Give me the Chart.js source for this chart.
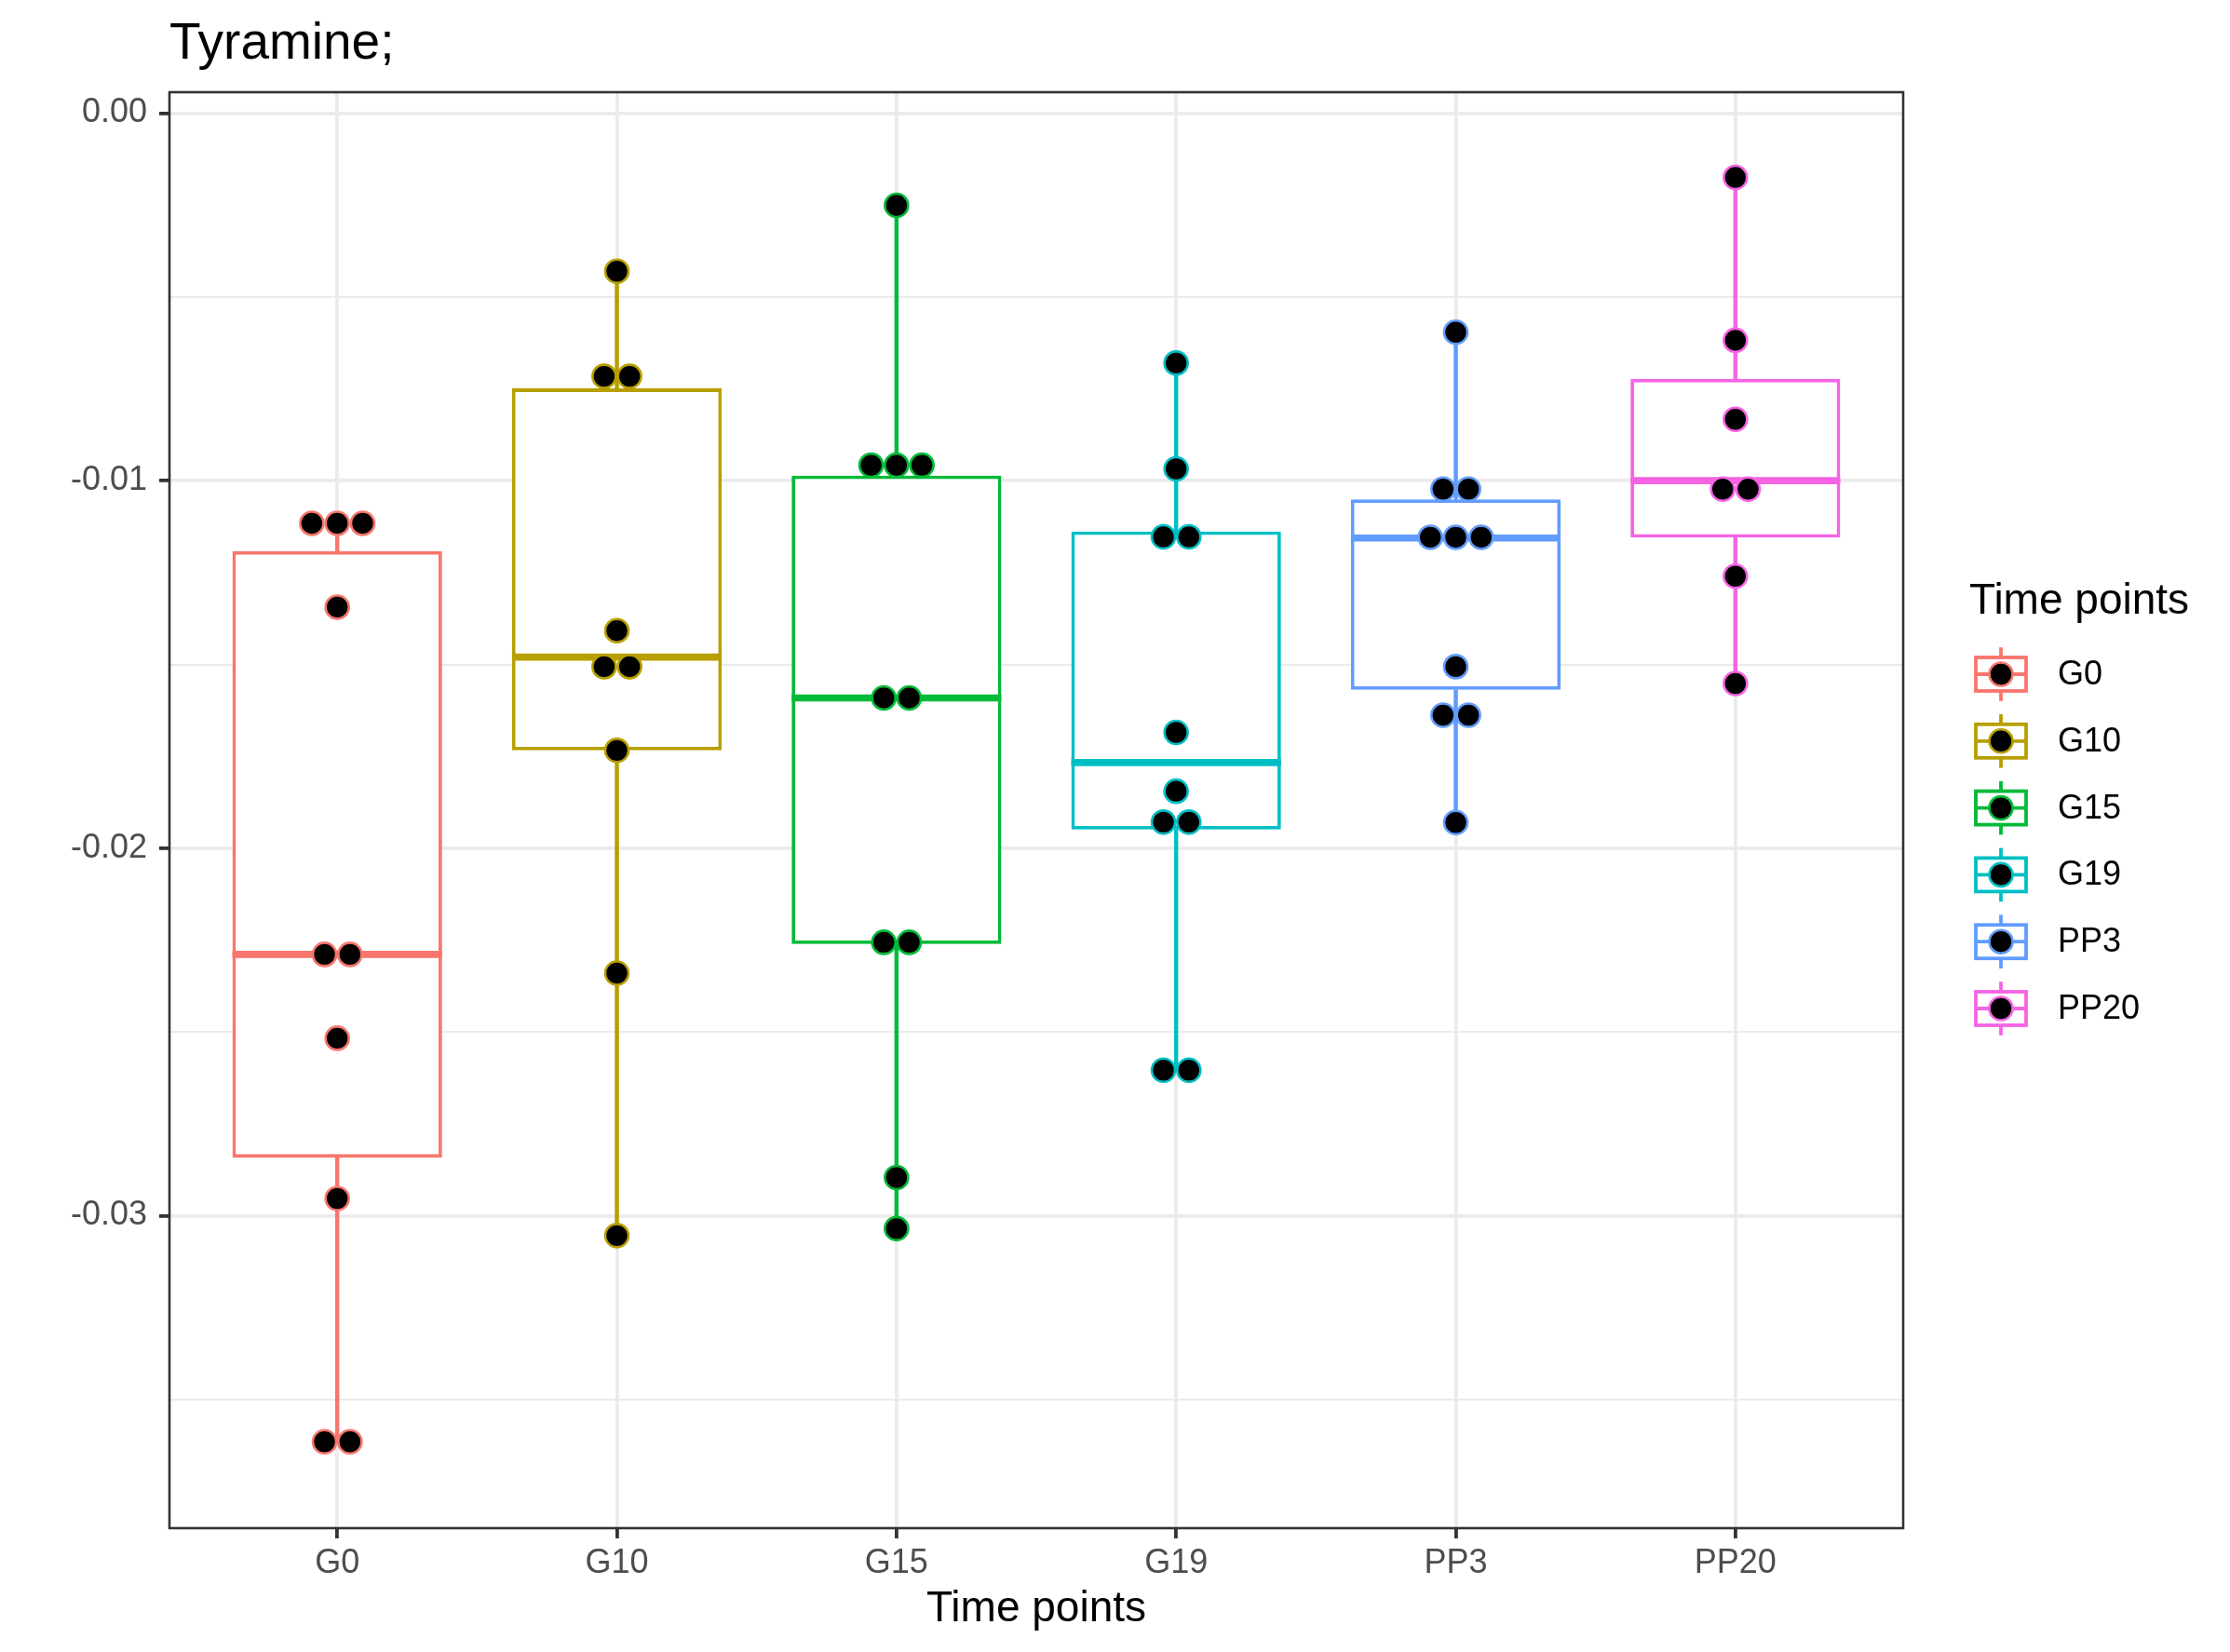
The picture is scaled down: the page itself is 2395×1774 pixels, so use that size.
<!DOCTYPE html>
<html>
<head>
<meta charset="utf-8">
<script src="https://cdn.jsdelivr.net/npm/chart.js@4.4.1/dist/chart.umd.min.js"></script>
<style>
html,body{margin:0;padding:0;background:#ffffff;}
#wrap{width:2395px;height:1774px;position:relative;}
canvas{display:block;}
</style>
</head>
<body>
<div id="wrap"><canvas id="c" width="2395" height="1774"></canvas></div>
<script>
// ---------------- data ----------------
const categories = ['G0', 'G10', 'G15', 'G19', 'PP3', 'PP20'];
const colors = ['#F8766D', '#B79F00', '#00BA38', '#00BFC4', '#619CFF', '#F564E3'];

const q1 = [-0.02842, -0.01734, -0.02261, -0.01949, -0.01569, -0.01155];
const median = [-0.02289, -0.01480, -0.01591, -0.01767, -0.01156, -0.01000];
const q3 = [-0.01192, -0.00749, -0.00986, -0.01138, -0.01051, -0.00723];
const whiskerLow = [-0.03615, -0.03054, -0.03035, -0.02604, -0.01930, -0.01552];
const whiskerHigh = [-0.01116, -0.00430, -0.00251, -0.00680, -0.00596, -0.00175];

const dotsG0 = [-0.01116, -0.01116, -0.01116, -0.01344, -0.02289, -0.02289, -0.02517, -0.02953, -0.03615, -0.03615];
const dotsG10 = [-0.00430, -0.00716, -0.00716, -0.01408, -0.01506, -0.01506, -0.01734, -0.02340, -0.03054];
const dotsG15 = [-0.00251, -0.00958, -0.00958, -0.00958, -0.01591, -0.01591, -0.02256, -0.02256, -0.02896, -0.03035];
const dotsG19 = [-0.00680, -0.00968, -0.01153, -0.01153, -0.01685, -0.01845, -0.01929, -0.01929, -0.02604, -0.02604];
const dotsPP3 = [-0.00596, -0.01023, -0.01023, -0.01154, -0.01154, -0.01154, -0.01506, -0.01638, -0.01638, -0.01930];
const dotsPP20 = [-0.00175, -0.00618, -0.00833, -0.01023, -0.01023, -0.01260, -0.01552];
const dotValues = [dotsG0, dotsG10, dotsG15, dotsG19, dotsPP3, dotsPP20];

const yTickValues = [-0.035, -0.03, -0.025, -0.02, -0.015, -0.01, -0.005, 0];
const yMin = -0.0385, yMax = 0.00057;

const chartTitle = 'Tyramine;';
const xTitle = 'Time points';
const legendTitle = 'Time points';

// ---------------- style ----------------
const FONT = '"Liberation Sans", Arial, Helvetica, sans-serif';
const LINE_W = 3.8;
const MEDIAN_W = 7.6;
const DOT_R = 12.5;
const DOT_BORDER = 2.6;
const DOT_STEP = 0.0909;   // horizontal spacing of stacked dots, in category units

function isMajor(v) { return Math.abs(Math.round(v * 100) - v * 100) < 1e-6; }

function dotPoints(g) {
  const vals = dotValues[g];
  const counts = {}, seen = {};
  vals.forEach(v => { counts[v] = (counts[v] || 0) + 1; });
  return vals.map(v => {
    const n = counts[v];
    const k = seen[v] = (seen[v] === undefined ? 0 : seen[v] + 1);
    return { x: g + (k - (n - 1) / 2) * DOT_STEP, y: v };
  });
}

const datasets = [];
datasets.push({
  type: 'bar', label: 'whiskerLow', order: 4,
  data: categories.map((c, i) => ({ x: i, y: [whiskerLow[i], q1[i]] })),
  backgroundColor: colors, borderWidth: 0, barThickness: LINE_W, grouped: false
});
datasets.push({
  type: 'bar', label: 'whiskerHigh', order: 3,
  data: categories.map((c, i) => ({ x: i, y: [q3[i], whiskerHigh[i]] })),
  backgroundColor: colors, borderWidth: 0, barThickness: LINE_W, grouped: false
});
const BOX_INDEX = 2;
datasets.push({
  type: 'bar', label: 'box', order: 2,
  data: categories.map((c, i) => ({ x: i, y: [q1[i], q3[i]] })),
  backgroundColor: '#FFFFFF', borderColor: colors, borderWidth: LINE_W,
  borderSkipped: false, grouped: false, barPercentage: 0.75, categoryPercentage: 1
});
categories.forEach((c, g) => {
  datasets.push({
    type: 'scatter', label: c, order: 1,
    data: dotPoints(g),
    pointRadius: DOT_R, pointBorderWidth: DOT_BORDER,
    pointBackgroundColor: '#000000', pointBorderColor: colors[g]
  });
});

const medianPlugin = {
  id: 'medians',
  afterDatasetDraw(chart, args) {
    if (args.index !== BOX_INDEX) return;
    const ctx = chart.ctx, ys = chart.scales.y;
    args.meta.data.forEach((el, i) => {
      const py = ys.getPixelForValue(median[i]);
      ctx.save();
      ctx.strokeStyle = colors[i];
      ctx.lineWidth = MEDIAN_W;
      ctx.beginPath();
      ctx.moveTo(el.x - el.width / 2, py);
      ctx.lineTo(el.x + el.width / 2, py);
      ctx.stroke();
      ctx.restore();
    });
  }
};

const framePlugin = {
  id: 'frame',
  afterDatasetsDraw(chart) {
    const { ctx, chartArea: a } = chart;
    ctx.save();
    ctx.strokeStyle = '#333333';
    ctx.lineWidth = 2.6;
    ctx.strokeRect(a.left, a.top, a.right - a.left, a.bottom - a.top);
    ctx.restore();
  },
  afterDraw(chart) {
    const { ctx, chartArea: a } = chart;
    ctx.save();
    // title
    ctx.fillStyle = '#000000';
    ctx.font = '55px ' + FONT;
    ctx.textAlign = 'left';
    ctx.textBaseline = 'alphabetic';
    ctx.fillText(chartTitle, a.left, 63);
    // legend
    const keyLeft = a.right + 69, keySize = 72;
    ctx.font = '46px ' + FONT;
    ctx.fillText(legendTitle, a.right + 71, 659);
    categories.forEach((c, i) => {
      const cy = 724 + i * 71.8;
      const cx = keyLeft + keySize / 2;
      const bl = keyLeft + keySize * 0.125, bw = keySize * 0.75;
      ctx.strokeStyle = colors[i];
      ctx.lineWidth = LINE_W;
      ctx.beginPath();
      ctx.moveTo(cx, cy - keySize * 0.4);
      ctx.lineTo(cx, cy + keySize * 0.4);
      ctx.stroke();
      ctx.fillStyle = '#FFFFFF';
      ctx.fillRect(bl, cy - keySize * 0.25, bw, keySize * 0.5);
      ctx.strokeRect(bl, cy - keySize * 0.25, bw, keySize * 0.5);
      ctx.beginPath();
      ctx.moveTo(bl, cy);
      ctx.lineTo(bl + bw, cy);
      ctx.stroke();
      ctx.beginPath();
      ctx.arc(cx, cy, DOT_R, 0, Math.PI * 2);
      ctx.fillStyle = '#000000';
      ctx.fill();
      ctx.lineWidth = DOT_BORDER;
      ctx.stroke();
      ctx.fillStyle = '#000000';
      ctx.font = '36px ' + FONT;
      ctx.textBaseline = 'middle';
      ctx.fillText(c, keyLeft + keySize + 25, cy + 1);
      ctx.textBaseline = 'alphabetic';
    });
    ctx.restore();
  }
};

new Chart(document.getElementById('c'), {
  type: 'bar',
  data: { datasets },
  options: {
    responsive: false,
    devicePixelRatio: 1,
    animation: false,
    events: [],
    layout: { padding: { top: 99, right: 351, left: 0, bottom: 0 } },
    plugins: { legend: { display: false }, title: { display: false }, tooltip: { enabled: false } },
    scales: {
      x: {
        type: 'linear', min: -0.6, max: 5.6, offset: false,
        afterBuildTicks: axis => { axis.ticks = categories.map((c, i) => ({ value: i })); },
        afterFit: axis => { axis.height = 133; },
        ticks: {
          autoSkip: false, maxRotation: 0, padding: 5,
          color: '#4D4D4D', font: { family: FONT, size: 36 },
          callback: v => categories[Math.round(v)]
        },
        grid: { offset: false, color: '#EBEBEB', lineWidth: LINE_W, tickColor: '#333333', tickWidth: LINE_W, tickLength: 11, drawTicks: true },
        border: { display: false },
        title: { display: true, text: xTitle, color: '#000000', font: { family: FONT, size: 46 }, padding: { top: 0, bottom: 18 } }
      },
      y: {
        type: 'linear', min: yMin, max: yMax,
        afterBuildTicks: axis => { axis.ticks = yTickValues.map(v => ({ value: v })); },
        afterFit: axis => { axis.width = 182; },
        ticks: {
          padding: 13, color: '#4D4D4D', font: { family: FONT, size: 36 },
          callback: v => isMajor(v) ? v.toFixed(2) : ''
        },
        grid: {
          color: '#EBEBEB',
          lineWidth: ctx => (ctx.tick && isMajor(ctx.tick.value)) ? LINE_W : LINE_W / 2,
          tickColor: ctx => (ctx.tick && isMajor(ctx.tick.value)) ? '#333333' : 'rgba(0,0,0,0)',
          tickWidth: LINE_W, tickLength: 11, drawTicks: true
        },
        border: { display: false }
      }
    }
  },
  plugins: [medianPlugin, framePlugin]
});
</script>
</body>
</html>
